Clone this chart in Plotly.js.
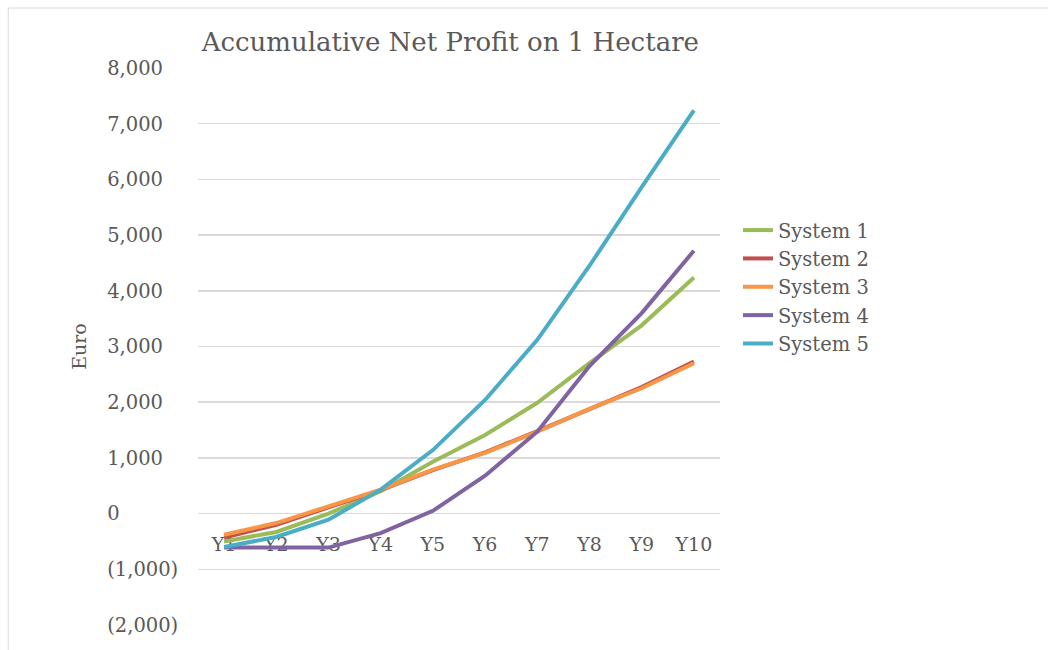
<!DOCTYPE html>
<html>
<head>
<meta charset="utf-8">
<script src="https://cdn.plot.ly/plotly-3.0.1.min.js"></script>
<style>
  html, body { margin: 0; padding: 0; background: #ffffff; }
  #chart { width: 1048px; height: 650px; }
</style>
</head>
<body>
<div id="chart"></div>
<script>
// Accumulated net profit per hectare (Euro), years 1-10
const years = ["Y1", "Y2", "Y3", "Y4", "Y5", "Y6", "Y7", "Y8", "Y9", "Y10"];
const seriesNames = ["System 1", "System 2", "System 3", "System 4", "System 5"];
const system1 = [-500, -330, 0, 400, 930, 1410, 1990, 2700, 3380, 4240];
const system2 = [-430, -200, 110, 420, 780, 1100, 1480, 1880, 2270, 2730];
const system3 = [-380, -170, 130, 430, 790, 1090, 1470, 1880, 2250, 2700];
const system4 = [-610, -610, -610, -350, 50, 680, 1470, 2650, 3600, 4720];
const system5 = [-600, -420, -110, 430, 1140, 2040, 3120, 4450, 5860, 7240];
const yTickVals = [-2000, -1000, 0, 1000, 2000, 3000, 4000, 5000, 6000, 7000, 8000];
const yTickText = ["(2,000)", "(1,000)", "0", "1,000", "2,000", "3,000", "4,000", "5,000", "6,000", "7,000", "8,000"];

const seriesValues = [system1, system2, system3, system4, system5];
const colors = ["#9BBB59", "#C0504D", "#F79646", "#8064A2", "#4BACC6"];

const FONT = "DejaVu Serif, Liberation Serif, serif";
const GREY = "#595959";

const traces = seriesValues.map((vals, i) => ({
  type: "scatter",
  mode: "lines",
  name: seriesNames[i],
  x: years,
  y: vals,
  line: { color: colors[i], width: 4 },
  hoverinfo: "x+y+name"
}));

// Left-aligned value labels: an empty companion trace on a second y axis
// whose labels sit on its right-hand side.
traces.push({
  type: "scatter",
  mode: "lines",
  x: years,
  y: [null, null, null, null, null, null, null, null, null, null],
  yaxis: "y2",
  showlegend: false,
  hoverinfo: "skip"
});

const layout = {
  width: 1048,
  height: 650,
  margin: { l: 100, r: 328, t: 68, b: 25 },
  paper_bgcolor: "#ffffff",
  plot_bgcolor: "#ffffff",
  font: { family: FONT, color: GREY, size: 19 },
  title: {
    text: "Accumulative Net Profit on 1 Hectare",
    font: { family: FONT, size: 26, color: GREY },
    xref: "paper",
    x: 0.565,
    xanchor: "center",
    yref: "container",
    y: 0.935,
    yanchor: "middle"
  },
  xaxis: {
    type: "category",
    domain: [0.158, 1],
    range: [-0.5, 9.5],
    showgrid: false,
    zeroline: false,
    showline: false,
    anchor: "free",
    position: 0.2,
    ticks: "outside",
    ticklen: 14,
    tickcolor: "rgba(0,0,0,0)",
    tickfont: { family: FONT, size: 19, color: GREY },
    layer: "below traces",
    fixedrange: true
  },
  yaxis: {
    range: [-2000, 8000],
    tickvals: yTickVals,
    showticklabels: false,
    showgrid: true,
    gridcolor: "#D9D9D9",
    gridwidth: 1.5,
    zeroline: true,
    zerolinecolor: "#D9D9D9",
    zerolinewidth: 1.5,
    showline: false,
    ticks: "",
    title: {
      text: "Euro",
      font: { family: FONT, size: 19, color: GREY },
      standoff: 105
    },
    fixedrange: true
  },
  yaxis2: {
    overlaying: "y",
    side: "right",
    anchor: "free",
    position: 0.01,
    range: [-2000, 8000],
    tickvals: yTickVals,
    ticktext: yTickText,
    showgrid: false,
    zeroline: false,
    showline: false,
    ticks: "",
    tickfont: { family: FONT, size: 19.5, color: GREY },
    fixedrange: true
  },
  showlegend: true,
  legend: {
    x: 1.029,
    xanchor: "left",
    y: 0.607,
    yanchor: "middle",
    font: { family: FONT, size: 19.5, color: GREY },
    bgcolor: "rgba(0,0,0,0)",
    tracegroupgap: 0,
    itemwidth: 30
  },
  shapes: [{
    type: "rect",
    xref: "paper",
    yref: "paper",
    x0: -0.148,
    x1: 1.6,
    y0: -0.1,
    y1: 1.1077,
    line: { color: "#D9D9D9", width: 1 },
    fillcolor: "rgba(0,0,0,0)",
    layer: "below"
  }]
};

Plotly.newPlot("chart", traces, layout, { displayModeBar: false, staticPlot: true });
</script>
</body>
</html>
